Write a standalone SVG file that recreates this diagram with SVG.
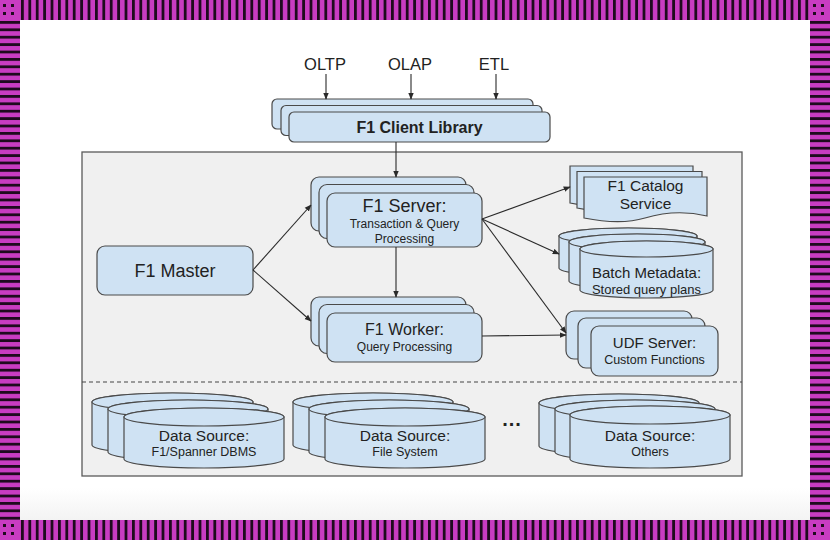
<svg xmlns="http://www.w3.org/2000/svg" width="830" height="540" viewBox="0 0 830 540">
<style>
.t{font-family:"Liberation Sans",Arial,sans-serif;fill:#222;text-anchor:middle}
.box{fill:#cfe2f3;stroke:#4a4a4a;stroke-width:1.2}
.con{stroke:#2a2a2a;stroke-width:1.1;fill:none;marker-end:url(#arr)}
</style>
<defs>
<marker id="arr" viewBox="0 0 10 10" refX="9" refY="5" markerWidth="7" markerHeight="7" markerUnits="userSpaceOnUse" orient="auto">
<path d="M0,1 L10,5 L0,9 Z" fill="#2a2a2a"/>
</marker>
<pattern id="vs" x="21" y="0" width="7.4" height="540" patternUnits="userSpaceOnUse">
<rect width="7.4" height="540" fill="#c83cc2"/>
<rect x="0" width="2.8" height="540" fill="#1e0a1e"/>
</pattern>
<pattern id="hs" x="0" y="21" width="830" height="7.4" patternUnits="userSpaceOnUse">
<rect width="830" height="7.4" fill="#c83cc2"/>
<rect y="0" width="830" height="2.8" fill="#1e0a1e"/>
</pattern>
<linearGradient id="sh" x1="0" y1="0" x2="0" y2="1">
<stop offset="0" stop-color="#ffffff"/>
<stop offset="1" stop-color="#f3f3f3"/>
</linearGradient>
</defs>
<rect width="830" height="540" fill="#ffffff"/>
<rect x="20" y="488" width="790" height="32" fill="url(#sh)"/>
<!-- border -->
<rect x="20" y="0" width="790" height="20" fill="url(#vs)"/>
<rect x="20" y="520" width="790" height="20" fill="url(#vs)"/>
<rect x="0" y="20" width="20" height="500" fill="url(#hs)"/>
<rect x="810" y="20" width="20" height="500" fill="url(#hs)"/>
<g fill="#c83cc2">
<rect x="0" y="0" width="20" height="20"/>
<rect x="810" y="0" width="20" height="20"/>
<rect x="0" y="520" width="20" height="20"/>
<rect x="810" y="520" width="20" height="20"/>
</g>
<g fill="#1e0a1e">
<rect x="3" y="4" width="3" height="3"/><rect x="11" y="4" width="3" height="3"/>
<rect x="3" y="12" width="3" height="3"/><rect x="11" y="12" width="3" height="3"/>
<rect x="813" y="4" width="3" height="3"/><rect x="821" y="4" width="3" height="3"/>
<rect x="813" y="12" width="3" height="3"/><rect x="821" y="12" width="3" height="3"/>
<rect x="3" y="524" width="3" height="3"/><rect x="11" y="524" width="3" height="3"/>
<rect x="3" y="532" width="3" height="3"/><rect x="11" y="532" width="3" height="3"/>
<rect x="813" y="524" width="3" height="3"/><rect x="821" y="524" width="3" height="3"/>
<rect x="813" y="532" width="3" height="3"/><rect x="821" y="532" width="3" height="3"/>
</g>
<!-- container -->
<g id="container">
<rect x="82" y="152" width="660" height="324" fill="#f0f0f0" stroke="#5a5a5a" stroke-width="1.3"/>
<line x1="82" y1="382" x2="742" y2="382" stroke="#444" stroke-width="1.2" stroke-dasharray="4,3"/>
</g>
<!-- labels -->
<g id="inputs">
<text class="t" x="325" y="70" font-size="16.5">OLTP</text>
<text class="t" x="410" y="70" font-size="16.5">OLAP</text>
<text class="t" x="494" y="70" font-size="16.5">ETL</text>
</g>
<g id="client">
<rect class="box" x="272" y="99" width="261" height="30" rx="5"/>
<rect class="box" x="281" y="105.5" width="261" height="30" rx="5"/>
<rect class="box" x="289" y="112" width="261" height="30" rx="5"/>
<text class="t" x="419.5" y="133" font-size="16" font-weight="bold">F1 Client Library</text>
</g>
<g id="master">
<rect class="box" x="97" y="246" width="156" height="49" rx="8"/>
<text class="t" x="175" y="277" font-size="18">F1 Master</text>
</g>
<g id="server">
<rect class="box" x="311" y="177" width="155" height="54" rx="8"/>
<rect class="box" x="319" y="184.5" width="155" height="54" rx="8"/>
<rect class="box" x="327" y="193" width="155" height="54" rx="8"/>
<text class="t" x="404.5" y="212" font-size="18">F1 Server:</text>
<text class="t" x="404.5" y="228" font-size="12">Transaction &amp; Query</text>
<text class="t" x="404.5" y="243" font-size="12">Processing</text>
</g>
<g id="worker">
<rect class="box" x="311" y="297" width="155" height="49" rx="8"/>
<rect class="box" x="319" y="304.5" width="155" height="49" rx="8"/>
<rect class="box" x="327" y="313" width="155" height="49" rx="8"/>
<text class="t" x="404.5" y="335" font-size="16">F1 Worker:</text>
<text class="t" x="404.5" y="351" font-size="12">Query Processing</text>
</g>
<g id="catalog">
<path class="box" d="M570,166 H693 V201 C672,196 652,197 632,203 C612,209 590,207 570,203 Z"/>
<path class="box" d="M577,171.5 H702 V206 C681,201 660,202 640,208 C619,214 597,212 577,208 Z"/>
<path class="box" d="M584,177 H707 V216 C686,211 665,212 645,218 C625,224 604,222 584,218 Z"/>
<text class="t" x="645.5" y="191" font-size="15.5">F1 Catalog</text>
<text class="t" x="645.5" y="209" font-size="15.5">Service</text>
</g>
<g id="batch">
<path class="box" d="M559,236 V268 A69,8 0 0 0 697,268 V236 A69,8 0 0 0 559,236 Z"/>
<ellipse class="box" cx="628" cy="236" rx="69" ry="8"/>
<path class="box" d="M569,242 V281 A68,8 0 0 0 705,281 V242 A68,8 0 0 0 569,242 Z"/>
<ellipse class="box" cx="637" cy="242" rx="68" ry="8"/>
<path class="box" d="M580,249 V290 A66.5,8 0 0 0 713,290 V249 A66.5,8 0 0 0 580,249 Z"/>
<ellipse class="box" cx="646.5" cy="249" rx="66.5" ry="8"/>
<text class="t" x="646.5" y="278" font-size="15">Batch Metadata:</text>
<text class="t" x="646.5" y="294" font-size="13">Stored query plans</text>
</g>
<g id="udf">
<rect class="box" x="566" y="311" width="126" height="48" rx="8"/>
<rect class="box" x="578" y="318" width="127" height="50" rx="8"/>
<rect class="box" x="591" y="326" width="127" height="50" rx="8"/>
<text class="t" x="654.5" y="348" font-size="15">UDF Server:</text>
<text class="t" x="654.5" y="364" font-size="12.5">Custom Functions</text>
</g>
<g id="ds1">
<path class="box" d="M92,402 V445 A80.5,9 0 0 0 253,445 V402 A80.5,9 0 0 0 92,402 Z"/>
<ellipse class="box" cx="172.5" cy="402" rx="80.5" ry="9"/>
<path class="box" d="M108,409 V452 A80,9 0 0 0 268,452 V409 A80,9 0 0 0 108,409 Z"/>
<ellipse class="box" cx="188" cy="409" rx="80" ry="9"/>
<path class="box" d="M124,417 V459 A80,9 0 0 0 284,459 V417 A80,9 0 0 0 124,417 Z"/>
<ellipse class="box" cx="204" cy="417" rx="80" ry="9"/>
<text class="t" x="204" y="441" font-size="15.5">Data Source:</text>
<text class="t" x="204" y="456" font-size="12.5">F1/Spanner DBMS</text>
</g>
<g id="ds2">
<path class="box" d="M293,402 V445 A80,9 0 0 0 453,445 V402 A80,9 0 0 0 293,402 Z"/>
<ellipse class="box" cx="373" cy="402" rx="80" ry="9"/>
<path class="box" d="M309,409 V452 A80,9 0 0 0 469,452 V409 A80,9 0 0 0 309,409 Z"/>
<ellipse class="box" cx="389" cy="409" rx="80" ry="9"/>
<path class="box" d="M325,417 V459 A80,9 0 0 0 485,459 V417 A80,9 0 0 0 325,417 Z"/>
<ellipse class="box" cx="405" cy="417" rx="80" ry="9"/>
<text class="t" x="405" y="441" font-size="15.5">Data Source:</text>
<text class="t" x="405" y="456" font-size="12.5">File System</text>
</g>
<text class="t" x="512" y="426" font-size="20" font-weight="bold" letter-spacing="1">...</text>
<g id="ds3">
<path class="box" d="M539,403 V446 A80,9 0 0 0 699,446 V403 A80,9 0 0 0 539,403 Z"/>
<ellipse class="box" cx="619" cy="403" rx="80" ry="9"/>
<path class="box" d="M555,409 V452 A80,9 0 0 0 715,452 V409 A80,9 0 0 0 555,409 Z"/>
<ellipse class="box" cx="635" cy="409" rx="80" ry="9"/>
<path class="box" d="M570,415 V459 A80,9 0 0 0 730,459 V415 A80,9 0 0 0 570,415 Z"/>
<ellipse class="box" cx="650" cy="415" rx="80" ry="9"/>
<text class="t" x="650" y="441" font-size="15.5">Data Source:</text>
<text class="t" x="650" y="456" font-size="12.5">Others</text>
</g>
<g id="connectors">
<line class="con" x1="326" y1="74" x2="326" y2="99"/>
<line class="con" x1="411" y1="74" x2="411" y2="99"/>
<line class="con" x1="496" y1="74" x2="496" y2="99"/>
<line class="con" x1="396" y1="142" x2="396" y2="177"/>
<line class="con" x1="253" y1="270" x2="311" y2="205"/>
<line class="con" x1="253" y1="270" x2="311" y2="321"/>
<line class="con" x1="396" y1="247" x2="396" y2="297"/>
<line class="con" x1="482" y1="219" x2="570" y2="187"/>
<line class="con" x1="482" y1="219" x2="559" y2="254"/>
<line class="con" x1="482" y1="219" x2="566" y2="333"/>
<line class="con" x1="482" y1="336" x2="566" y2="335"/>
</g>
</svg>
